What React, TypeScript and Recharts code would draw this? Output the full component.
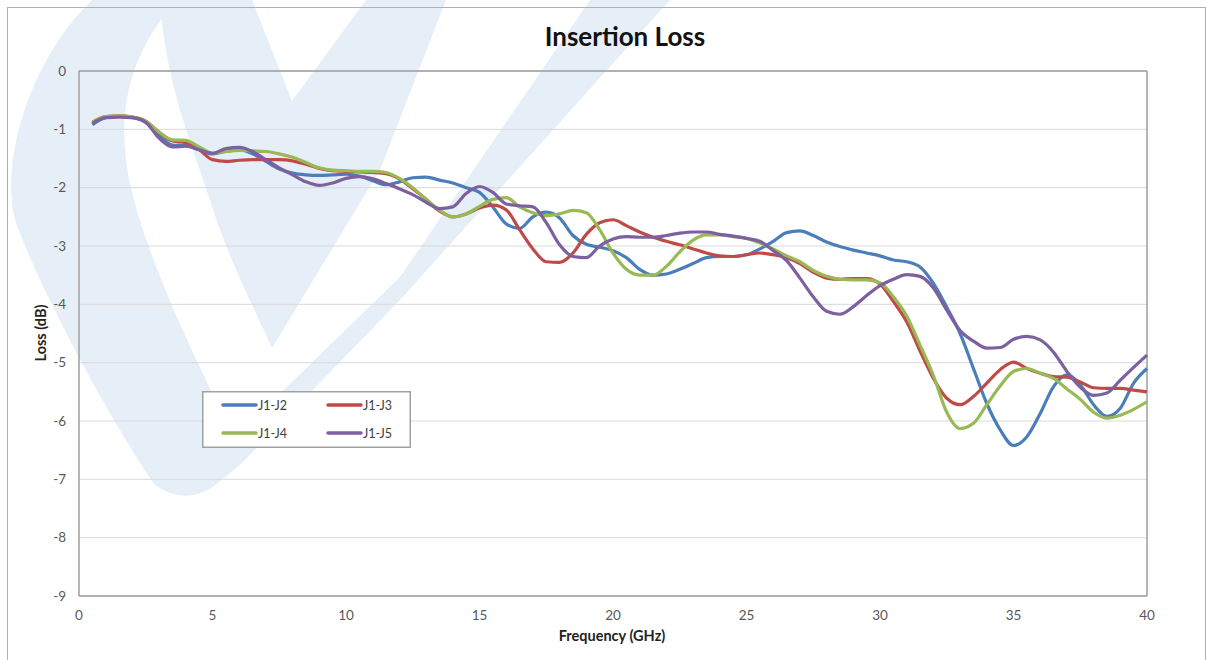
import React from 'react';
import { LineChart, Line, XAxis, YAxis, CartesianGrid, Legend, ReferenceLine } from 'recharts';

const frequencies = [
  0.5, 1, 1.5, 2, 2.5, 3, 3.5, 4, 4.5, 5, 5.5, 6, 6.5, 7, 7.5, 8, 8.5, 9, 9.5, 10,
  10.5, 11, 11.5, 12, 12.5, 13, 13.5, 14, 14.5, 15, 15.5, 16, 16.5, 17, 17.5, 18, 18.5, 19, 19.5, 20,
  20.5, 21, 21.5, 22, 22.5, 23, 23.5, 24, 24.5, 25, 25.5, 26, 26.5, 27, 27.5, 28, 28.5, 29, 29.5, 30,
  30.5, 31, 31.5, 32, 32.5, 33, 33.5, 34, 34.5, 35, 35.5, 36, 36.5, 37, 37.5, 38, 38.5, 39, 39.5, 40,
];

const lossJ1J2 = [
  -0.92, -0.8, -0.78, -0.8, -0.88, -1.1, -1.27, -1.28, -1.35, -1.42, -1.38, -1.35, -1.42, -1.55, -1.68, -1.75, -1.78, -1.79, -1.78, -1.77,
  -1.8, -1.88, -1.95, -1.9, -1.83, -1.82, -1.87, -1.92, -2.0, -2.08, -2.33, -2.62, -2.7, -2.5, -2.42, -2.52, -2.82, -2.97, -3.02, -3.08,
  -3.2, -3.4, -3.5, -3.48, -3.4, -3.3, -3.2, -3.18, -3.18, -3.15, -3.05, -2.92, -2.77, -2.74, -2.82, -2.93, -3.01, -3.07, -3.12, -3.17,
  -3.24, -3.27, -3.36, -3.64, -4.05, -4.5, -5.1, -5.7, -6.15, -6.42, -6.27, -5.87, -5.41, -5.21, -5.38, -5.72, -5.92, -5.78, -5.35, -5.1,
];

const lossJ1J3 = [
  -0.88, -0.78, -0.77, -0.79, -0.86, -1.05, -1.2, -1.23, -1.35, -1.52, -1.55, -1.53, -1.52, -1.52, -1.52, -1.54, -1.6, -1.67, -1.71, -1.72,
  -1.73, -1.74, -1.76, -1.85, -2.02, -2.2, -2.4, -2.5, -2.45, -2.35, -2.3, -2.38, -2.72, -3.05, -3.27, -3.28, -3.12, -2.8, -2.6, -2.55,
  -2.65, -2.76, -2.85, -2.92, -2.98, -3.05, -3.12, -3.17, -3.18, -3.15, -3.12, -3.15, -3.2, -3.3, -3.45, -3.55, -3.57, -3.56, -3.56, -3.65,
  -3.95, -4.3, -4.8, -5.27, -5.61, -5.72, -5.58, -5.35, -5.12, -4.99, -5.1, -5.18, -5.24, -5.25, -5.33, -5.43, -5.44, -5.44, -5.47, -5.5,
];

const lossJ1J4 = [
  -0.88, -0.78, -0.77, -0.79, -0.86, -1.05, -1.18, -1.19, -1.3, -1.41, -1.38, -1.36, -1.37, -1.38, -1.42, -1.48, -1.57, -1.66, -1.7, -1.71,
  -1.72, -1.72, -1.74, -1.84, -2.0, -2.2, -2.38, -2.5, -2.45, -2.32, -2.2, -2.17, -2.33, -2.43, -2.48, -2.45, -2.39, -2.43, -2.72, -3.12,
  -3.4, -3.5, -3.5, -3.35, -3.1, -2.9, -2.81, -2.81, -2.84, -2.87, -2.95, -3.05, -3.17, -3.27, -3.42, -3.52, -3.57, -3.58, -3.58, -3.63,
  -3.87, -4.2, -4.7, -5.22, -5.85, -6.13, -6.04, -5.72, -5.4, -5.15, -5.1, -5.18, -5.27, -5.45, -5.63, -5.85, -5.95, -5.9, -5.8, -5.67,
];

const lossJ1J5 = [
  -0.9, -0.8, -0.79, -0.8, -0.88, -1.15, -1.3, -1.29, -1.35, -1.41, -1.33, -1.31, -1.38, -1.52, -1.66, -1.78, -1.9, -1.96, -1.92, -1.84,
  -1.81, -1.85, -1.93, -2.02, -2.12, -2.25, -2.36, -2.33, -2.1, -1.98, -2.08, -2.28, -2.31, -2.33, -2.6, -2.98, -3.18, -3.2, -3.0, -2.88,
  -2.84, -2.85, -2.85, -2.82, -2.78, -2.76, -2.76, -2.8, -2.83, -2.87, -2.92, -3.08, -3.25, -3.55, -3.87, -4.12, -4.17, -4.04, -3.85, -3.68,
  -3.57, -3.49, -3.52, -3.72, -4.1, -4.45, -4.63, -4.75, -4.74, -4.6, -4.55, -4.61, -4.82, -5.15, -5.42, -5.56, -5.52, -5.3, -5.08, -4.87,
];

const seriesNames = ['J1-J2', 'J1-J3', 'J1-J4', 'J1-J5'];
const seriesColors = ['#4A7EBB', '#BE4B48', '#98B954', '#7D60A0'];
const xTicks = [0, 5, 10, 15, 20, 25, 30, 35, 40];
const yTicks = [0, -1, -2, -3, -4, -5, -6, -7, -8, -9];

const chartTitle = 'Insertion Loss';
const xAxisTitle = 'Frequency (GHz)';
const yAxisTitle = 'Loss (dB)';

const data = frequencies.map((f, i) => ({
  f,
  s0: lossJ1J2[i],
  s1: lossJ1J3[i],
  s2: lossJ1J4[i],
  s3: lossJ1J5[i],
}));

const FONT = 'Lato, "Open Sans", sans-serif';
const WM = '#E6EEF7';

const LegendBox = (props: any) => {
  const payload = props.payload || [];
  return (
    <svg width={209} height={57} style={{ display: 'block' }}>
      <rect x={0.75} y={0.75} width={207.5} height={55.5} fill="#fff" stroke="#A0A0A0" strokeWidth={1.5} />
      {payload.map((p: any, i: number) => {
        const col = i % 2;
        const row = Math.floor(i / 2);
        const x0 = col === 0 ? 21 : 126;
        const y0 = row === 0 ? 14 : 42;
        return (
          <g key={i}>
            <line x1={x0} x2={x0 + 33} y1={y0} y2={y0} stroke={p.color} strokeWidth={3.5} strokeLinecap="round" />
            <text x={x0 + 35} y={y0 + 4.5} fontSize={12.5} fontFamily={FONT} fill="#404040">{p.value}</text>
          </g>
        );
      })}
    </svg>
  );
};

export default function App() {
  const keys = ['s0', 's1', 's2', 's3'];
  return (
    <div style={{ position: 'absolute', left: 0, top: 0, width: 1213, height: 660, background: '#fff', overflow: 'hidden' }}>
      <svg width={1213} height={660} style={{ position: 'absolute', left: 0, top: 0 }}>
        <path
          d="M 92 0 L 178 0 C 140 40, 120 90, 125 150 C 130 220, 180 330, 238 445 L 214 486 Q 185 506 155 485 C 110 420, 40 290, 15 220 C 0 160, 30 60, 92 0 Z"
          fill={WM}
        />
        <path
          d="M 160 0 L 252 0 L 292 101 L 366 0 L 446 0 L 380 170 L 272 348 C 250 300, 225 250, 210 200 C 190 140, 165 80, 160 0 Z"
          fill={WM}
        />
        <path d="M 590 0 L 670 0 L 400 300 L 243 462 L 214 486 L 232 440 L 400 277 Z" fill={WM} />
        <rect x={7.5} y={7.5} width={1198} height={700} fill="none" stroke="#B0B0B0" strokeWidth={1} />
      </svg>
      <div style={{ position: 'absolute', left: 0, top: 0 }}>
        <LineChart width={1213} height={660} data={data} margin={{ top: 71, right: 66, bottom: 34, left: 29 }}>
          <CartesianGrid horizontal={true} vertical={false} stroke="#D9D9D9" strokeWidth={1} />
          <XAxis
            dataKey="f"
            type="number"
            domain={[0, 40]}
            ticks={xTicks}
            height={30}
            tickLine={false}
            tickSize={6}
            tickMargin={8}
            axisLine={{ stroke: '#9E9E9E', strokeWidth: 1.5 }}
            tick={{ fill: '#595959', fontSize: 13.5, fontFamily: FONT }}
            interval={0}
          />
          <YAxis
            type="number"
            domain={[-9, 0]}
            ticks={yTicks}
            width={50}
            tickLine={false}
            tickSize={6}
            tickMargin={7}
            axisLine={{ stroke: '#9E9E9E', strokeWidth: 1.5 }}
            tick={{ fill: '#595959', fontSize: 13.5, fontFamily: FONT }}
            interval={0}
          />
          <ReferenceLine y={0} stroke="#9E9E9E" strokeWidth={1.5} />
          <ReferenceLine x={40} stroke="#9E9E9E" strokeWidth={1.5} />
          {keys.map((k, i) => (
            <Line
              key={k}
              dataKey={k}
              name={seriesNames[i]}
              type="monotone"
              stroke={seriesColors[i]}
              strokeWidth={3.2}
              dot={false}
              activeDot={false}
              isAnimationActive={false}
            />
          ))}
          <Legend
            layout="horizontal"
            verticalAlign="middle"
            align="center"
            content={<LegendBox />}
            wrapperStyle={{ position: 'absolute', left: 202, top: 391, width: 209, height: 57 }}
          />
        </LineChart>
      </div>
      <svg width={1213} height={660} style={{ position: 'absolute', left: 0, top: 0, pointerEvents: 'none' }}>
        <text x={625} y={46} textAnchor="middle" fontSize={26} fontWeight="bold" fontFamily={FONT} fill="#111">{chartTitle}</text>
        <text x={612} y={641} textAnchor="middle" fontSize={14.5} fontWeight="bold" fontFamily={FONT} fill="#222">{xAxisTitle}</text>
        <text x={46} y={333} textAnchor="middle" fontSize={14.5} fontWeight="bold" fontFamily={FONT} fill="#222" transform="rotate(-90 46 333)">{yAxisTitle}</text>
      </svg>
    </div>
  );
}
